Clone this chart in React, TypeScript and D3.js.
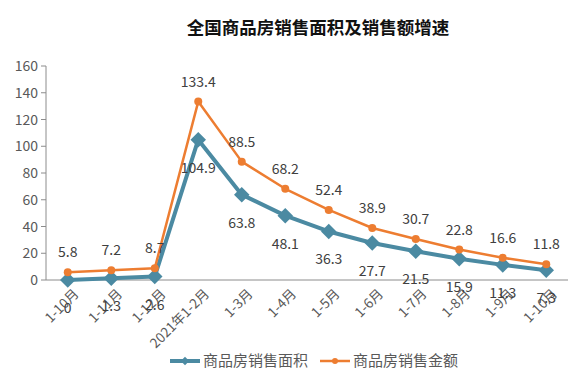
import React from 'react';
import * as d3 from 'd3';

const categories: string[] = ['1-10月', '1-11月', '1-12月', '2021年1-2月', '1-3月', '1-4月', '1-5月', '1-6月', '1-7月', '1-8月', '1-9月', '1-10月'];
const areaGrowth: number[] = [0, 1.3, 2.6, 104.9, 63.8, 48.1, 36.3, 27.7, 21.5, 15.9, 11.3, 7.3];
const amountGrowth: number[] = [5.8, 7.2, 8.7, 133.4, 88.5, 68.2, 52.4, 38.9, 30.7, 22.8, 16.6, 11.8];
const yTicks: number[] = [0, 20, 40, 60, 80, 100, 120, 140, 160];
const seriesNames: string[] = ['商品房销售面积', '商品房销售金额'];
const title = '全国商品房销售面积及销售额增速';

const W = 580;
const H = 373;
const BLUE = '#4b8aa2';
const ORANGE = '#ed7d31';
const FONT = '"Noto Sans CJK SC", "Noto Sans", sans-serif';

export default function App() {
  const x = d3.scaleBand<number>().domain(categories.map((_, i) => i)).range([46, 568]);
  const y = d3.scaleLinear().domain([0, 160]).range([280, 66]);
  const cx = (i: number) => (x(i) as number) + x.bandwidth() / 2;

  const line = d3.line<number>().x((_, i) => cx(i)).y((d) => y(d));
  const fmt = (d: number) => String(d);

  return (
    <svg width={W} height={H} style={{ position: 'absolute', left: 0, top: 0, background: '#fff' }}>
      <rect width={W} height={H} fill="#fff" />
      <text x={318} y={34} textAnchor="middle" fontFamily={FONT} fontWeight="bold" fontSize={17.5} fill="#111">{title}</text>

      {/* y axis */}
      <line x1={46} x2={46} y1={y(160)} y2={y(0)} stroke="#8c8c8c" strokeWidth={1} />
      {yTicks.map((t) => (
        <g key={t}>
          <line x1={41} x2={46} y1={y(t)} y2={y(t)} stroke="#8c8c8c" />
          <text x={38} y={y(t)} dy="0.36em" textAnchor="end" fontFamily={FONT} fontSize={14} fill="#595959">{t}</text>
        </g>
      ))}
      {/* x axis */}
      <line x1={46} x2={568} y1={y(0)} y2={y(0)} stroke="#8c8c8c" strokeWidth={1} />
      {categories.map((c, i) => (
        <text key={i} transform={`translate(${cx(i) + 7},${y(0) + 10}) rotate(-45)`} textAnchor="end" dy="0.5em" fontFamily={FONT} fontSize={13.5} fill="#595959">{c}</text>
      ))}

      {/* area series */}
      <path d={line(areaGrowth) || ''} fill="none" stroke={BLUE} strokeWidth={4} strokeLinejoin="round" />
      {areaGrowth.map((d, i) => (
        <rect key={i} x={cx(i) - 5.5} y={y(d) - 5.5} width={11} height={11} fill={BLUE} transform={`rotate(45 ${cx(i)} ${y(d)})`} />
      ))}

      {/* amount series */}
      <path d={line(amountGrowth) || ''} fill="none" stroke={ORANGE} strokeWidth={2.5} strokeLinejoin="round" />
      {amountGrowth.map((d, i) => (
        <circle key={i} cx={cx(i)} cy={y(d)} r={4} fill={ORANGE} />
      ))}

      {/* labels */}
      {areaGrowth.map((d, i) => (
        <text key={i} x={cx(i)} y={y(d) + 28} dy="0.36em" textAnchor="middle" fontFamily={FONT} fontSize={14} fill="#404040">{fmt(d)}</text>
      ))}
      {amountGrowth.map((d, i) => (
        <text key={i} x={cx(i)} y={y(d) - 20} dy="0.36em" textAnchor="middle" fontFamily={FONT} fontSize={14} fill="#404040">{fmt(d)}</text>
      ))}

      {/* legend */}
      <g>
        <line x1={170} x2={200} y1={361} y2={361} stroke={BLUE} strokeWidth={4} />
        <rect x={182} y={358} width={6} height={6} fill={BLUE} transform="rotate(45 185 361)" />
        <text x={203} y={361} dy="0.36em" fontFamily={FONT} fontSize={15} fill="#595959">{seriesNames[0]}</text>
        <line x1={320} x2={350} y1={361} y2={361} stroke={ORANGE} strokeWidth={2.5} />
        <circle cx={335} cy={361} r={3} fill={ORANGE} />
        <text x={353} y={361} dy="0.36em" fontFamily={FONT} fontSize={15} fill="#595959">{seriesNames[1]}</text>
      </g>
    </svg>
  );
}
